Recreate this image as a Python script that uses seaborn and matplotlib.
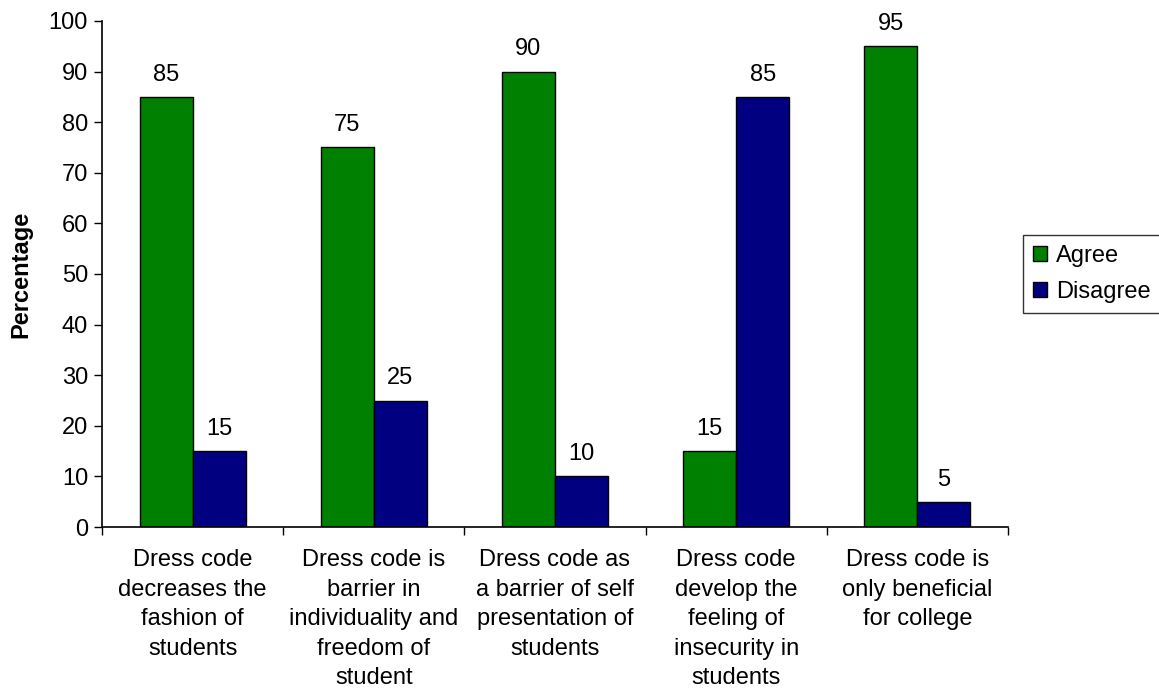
import matplotlib
matplotlib.use("Agg")
import matplotlib.pyplot as plt
import seaborn as sns
import pandas as pd
import numpy as np

categories = [
    "Dress code\ndecreases the\nfashion of\nstudents",
    "Dress code is\nbarrier in\nindividuality and\nfreedom of\nstudent",
    "Dress code as\na barrier of self\npresentation of\nstudents",
    "Dress code\ndevelop the\nfeeling of\ninsecurity in\nstudents",
    "Dress code is\nonly beneficial\nfor college",
]
agree = [85, 75, 90, 15, 95]
disagree = [15, 25, 10, 85, 5]
series = ["Agree", "Disagree"]
colors = ["#008000", "#000080"]

df = pd.DataFrame({
    "cat": categories * 2,
    "val": agree + disagree,
    "series": [series[0]] * 5 + [series[1]] * 5,
})

sns.set_style("white")
plt.rcParams['font.family'] = ['Liberation Sans', 'DejaVu Sans']
plt.rcParams['text.color'] = 'black'
plt.rcParams['axes.labelcolor'] = 'black'
plt.rcParams['xtick.color'] = 'black'
plt.rcParams['ytick.color'] = 'black'

FS = 17

fig = plt.figure(figsize=(11.59, 6.92), dpi=100)
ax = fig.add_axes([0.088, 0.2384, 0.7817, 0.7313])

sns.barplot(data=df, x="cat", y="val", hue="series", palette=colors,
            width=0.585, edgecolor="black", linewidth=1, ax=ax, saturation=1)

for c in ax.containers:
    ax.bar_label(c, padding=8, fontsize=FS, color='black')

ax.set_xlim(-0.5, 4.5)
ax.set_ylim(0, 100)
ax.set_yticks(range(0, 101, 10))
ax.tick_params(axis='y', labelsize=FS, length=6, width=1, direction='out', left=True, pad=4, colors='black')
ax.set_xticks(range(5))
ax.set_xticklabels(categories, fontsize=FS, linespacing=1.44, va='top', color='black')
ax.tick_params(axis='x', which='major', length=0, pad=16)
ax.set_xticks(np.arange(-0.5, 5, 1), minor=True)
ax.tick_params(axis='x', which='minor', length=6, width=1, direction='out', bottom=True, colors='black')

for s in ['top', 'right']:
    ax.spines[s].set_visible(False)
for s in ['left', 'bottom']:
    ax.spines[s].set_color('black')
    ax.spines[s].set_linewidth(1.2)

ax.set_xlabel("")
ax.set_ylabel("Percentage", fontsize=FS, fontweight='bold', labelpad=12, color='black')

leg = ax.legend(loc='center left', bbox_to_anchor=(1.017, 0.5), fontsize=FS,
                frameon=True, fancybox=False, edgecolor='black',
                handlelength=0.6, handleheight=0.6, handletextpad=0.4,
                labelspacing=0.6, borderpad=0.4, borderaxespad=0)
leg.get_frame().set_linewidth(1)
for t in leg.get_texts():
    t.set_color('black')

fig.savefig("out.png", dpi=100)
